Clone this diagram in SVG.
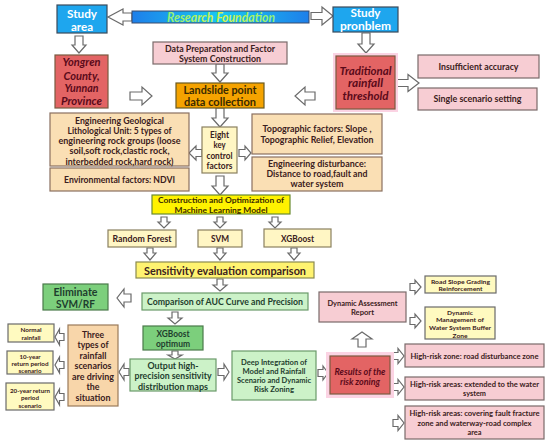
<svg xmlns="http://www.w3.org/2000/svg" width="550" height="444" viewBox="0 0 550 444">
<defs>
<linearGradient id="rfg" x1="0" y1="0" x2="1" y2="0">
<stop offset="0" stop-color="#1E7FEA"/><stop offset="0.5" stop-color="#17C9F2"/><stop offset="1" stop-color="#1E7FEA"/>
</linearGradient>
<linearGradient id="rft" x1="0" y1="0" x2="1" y2="0">
<stop offset="0" stop-color="#8CF07A"/><stop offset="0.5" stop-color="#D6F04A"/><stop offset="1" stop-color="#8CF07A"/>
</linearGradient>
<style>
text{font-family:Lato,"Open Sans","Noto Sans",sans-serif;font-weight:700;text-anchor:middle;fill:#3A2020}
.b{stroke-width:1.2}
.blue{fill:#1EA6EE;stroke:#3A4A5A}
.red{fill:#E36464;stroke:#7A5A40}
.pink{fill:#F7CDD3;stroke:#7A6A6A}
.org{fill:#F5A300;stroke:#6A5A20}
.wht{fill:#FADFB4;stroke:#8A7060}
.lyl{fill:#FFF6C4;stroke:#8A8060}
.yel{fill:#FFF200;stroke:#6A8A30}
.sen{fill:#FFF370;stroke:#8A8A50}
.lgr{fill:#CCF2C8;stroke:#6A9A6A}
.gr{fill:#7CCF7C;stroke:#4A7A4A}
.pch{fill:#F8D6AA;stroke:#9A7A5A}
.syl{fill:#FFFAC0;stroke:#6A6A6A}
.halo{fill:#FBD3E3}
.tw{fill:#FFFFFF}
.ti{font-style:italic;fill:#5A0A1A}
.tg{fill:#1E3D2E}
.to{fill:#3A2A00}
.arr path{fill:#FFFFFF;stroke:#6A6A6A;stroke-width:1.2;stroke-linejoin:miter}
</style>
</defs>
<rect width="550" height="444" fill="#FFFFFF"/>

<g id="connectors" class="arr">
<path d="M132,13 H123 V9 L108,17 L123,25 V21 H132 Z"/>
<path d="M311,12.5 H322 V7 L333,16 L322,25 V19.5 H311 Z"/>
<path d="M75,36 H83 V45 H86 L79,53 L72,45 H75 Z"/>
<path d="M362,33 H370 V44 H374 L366,53 L358,44 H362 Z"/>
<path d="M130,92 H142 V87 L152,96 L142,105 V100 H130 Z"/>
<path d="M315,92 H305 V87 L295,96 L305,105 V100 H315 Z"/>
<path d="M216,64 H224 V73 H228 L220,82 L212,73 H216 Z"/>
<path d="M397,79.5 H408 V74.5 L419,83 L408,91.5 V86.5 H397 Z"/>
<path d="M216,108 H224 V118 H228 L220,127 L212,118 H216 Z"/>
<path d="M202,149.5 H196 V146 L189,153 L196,160 V156.5 H202 Z"/>
<path d="M239,149.5 H245 V146 L251,153 L245,160 V156.5 H239 Z"/>
<path d="M216,176 H224 V186 H228 L220,195 L212,186 H216 Z"/>
<path d="M161,217 H167 V222 H170 L164,228 L158,222 H161 Z"/>
<path d="M217,217 H223 V222 H226 L220,228 L214,222 H217 Z"/>
<path d="M272,217 H278 V222 H281 L275,228 L269,222 H272 Z"/>
<path d="M147,248 H153 V253 H156 L150,260 L144,253 H147 Z"/>
<path d="M217,248 H223 V253 H226 L220,260 L214,253 H217 Z"/>
<path d="M291,248 H297 V253 H300 L294,260 L288,253 H291 Z"/>
<path d="M217,279 H223 V285 H227 L220,291 L213,285 H217 Z"/>
<path d="M131,294 H124 V289 L117,298 L124,307 V302 H131 Z"/>
<path d="M172,312 H178 V318 H182 L175,324 L168,318 H172 Z"/>
<path d="M172,351 H178 V355 H182 L175,359 L168,355 H172 Z"/>
<path d="M129,368.5 H124 V364 L119,372 L124,380 V375.5 H129 Z"/>
<path d="M64,333.5 H59.5 V329 L55,337 L59.5,345 V340.5 H64 Z"/>
<path d="M64,361.5 H59.5 V357 L55,365 L59.5,373 V368.5 H64 Z"/>
<path d="M64,393.5 H59.5 V389 L55,397 L59.5,405 V400.5 H64 Z"/>
<path d="M218,368.5 H224 V364 L229,372 L224,380 V375.5 H218 Z"/>
<path d="M318,369.5 H323 V366 L328,373 L323,380 V376.5 H318 Z"/>
<path d="M358,347 V339 H352 L362,332 L372,339 H366 V347 Z"/>
<path d="M410,283.5 H415 V280 L421,287 L415,294 V290.5 H410 Z"/>
<path d="M410,317.5 H415 V314 L421,321 L415,328 V324.5 H410 Z"/>
<path d="M393,352.5 H398 V348.5 L404,356 L398,363.5 V359.5 H393 Z"/>
<path d="M393,383.5 H398 V379.5 L404,387 L398,394.5 V390.5 H393 Z"/>
<path d="M393,419.5 H398 V415.5 L404,423 L398,430.5 V426.5 H393 Z"/>
</g>

<g id="study-area"><rect class="blue b" x="57" y="5" width="50" height="28"/>
<text class="tw" x="82" y="17.5" font-size="11.5" textLength="30" lengthAdjust="spacingAndGlyphs">Study</text>
<text class="tw" x="82" y="30.5" font-size="11.5" textLength="22" lengthAdjust="spacingAndGlyphs">area</text></g>

<g id="research-foundation"><rect x="132" y="11" width="177" height="12" fill="url(#rfg)" stroke="#3A4A6A" stroke-width="1"/>
<text x="221" y="21.5" font-size="12.5" font-style="italic" style="fill:url(#rft)" textLength="108" lengthAdjust="spacingAndGlyphs">Research Foundation</text></g>

<g id="study-problem"><rect class="blue b" x="333" y="7" width="65" height="25"/>
<text class="tw" x="365.5" y="17" font-size="11.5" textLength="30" lengthAdjust="spacingAndGlyphs">Study</text>
<text class="tw" x="365.5" y="30" font-size="11.5" textLength="51" lengthAdjust="spacingAndGlyphs">pronblem</text></g>

<g id="yongren"><rect class="red b" x="55" y="55" width="53" height="53"/>
<text class="ti" x="81.5" y="66" font-size="11" textLength="38" lengthAdjust="spacingAndGlyphs">Yongren</text>
<text class="ti" x="81.5" y="79.5" font-size="11" textLength="36" lengthAdjust="spacingAndGlyphs">County,</text>
<text class="ti" x="81.5" y="92" font-size="11" textLength="34" lengthAdjust="spacingAndGlyphs">Yunnan</text>
<text class="ti" x="81.5" y="105" font-size="11" textLength="41" lengthAdjust="spacingAndGlyphs">Province</text></g>

<g id="data-preparation"><rect class="pink b" x="153" y="42" width="134" height="22"/>
<text x="220" y="51.5" font-size="8.5" textLength="110" lengthAdjust="spacingAndGlyphs">Data Preparation and Factor</text>
<text x="220" y="61.5" font-size="8.5" textLength="82" lengthAdjust="spacingAndGlyphs">System Construction</text></g>

<g id="landslide"><rect class="org b" x="176" y="83" width="88" height="25"/>
<text class="to" x="220" y="94" font-size="10.5" textLength="73" lengthAdjust="spacingAndGlyphs">Landslide point</text>
<text class="to" x="220" y="105.5" font-size="10.5" textLength="72" lengthAdjust="spacingAndGlyphs">data collection</text></g>

<g id="traditional"><rect class="halo" x="333" y="53" width="65" height="59"/><rect class="red b" x="336" y="56" width="59" height="53"/>
<text class="ti" x="365.5" y="75" font-size="11" textLength="52" lengthAdjust="spacingAndGlyphs">Traditional</text>
<text class="ti" x="365.5" y="87" font-size="11" textLength="35" lengthAdjust="spacingAndGlyphs">rainfall</text>
<text class="ti" x="365.5" y="100" font-size="11" textLength="46" lengthAdjust="spacingAndGlyphs">threshold</text></g>

<g id="insufficient"><rect class="pink b" x="418" y="55" width="121" height="23"/>
<text x="478.5" y="70" font-size="8.5" textLength="80" lengthAdjust="spacingAndGlyphs">Insufficient accuracy</text></g>

<g id="single-scenario"><rect class="pink b" x="418" y="88" width="119" height="22"/>
<text x="477.5" y="102" font-size="8.5" textLength="88" lengthAdjust="spacingAndGlyphs">Single scenario setting</text></g>

<g id="eng-geo"><rect class="wht b" x="50" y="113" width="139" height="53"/>
<text x="119.5" y="123.5" font-size="8.5" textLength="89" lengthAdjust="spacingAndGlyphs">Engineering Geological</text>
<text x="119.5" y="133.5" font-size="8.5" textLength="104" lengthAdjust="spacingAndGlyphs">Lithological Unit: 5 types of</text>
<text x="119.5" y="144" font-size="8.5" textLength="122" lengthAdjust="spacingAndGlyphs">engineering rock groups (loose</text>
<text x="119.5" y="154" font-size="8.5" textLength="100" lengthAdjust="spacingAndGlyphs">soil,soft rock,clastic rock,</text>
<text x="119.5" y="164.5" font-size="8.5" textLength="108" lengthAdjust="spacingAndGlyphs">interbedded rock,hard rock)</text></g>

<g id="ndvi"><rect class="wht b" x="50" y="168" width="139" height="23"/>
<text x="119.5" y="183" font-size="9" textLength="111" lengthAdjust="spacingAndGlyphs">Environmental factors: NDVI</text></g>

<g id="eight-key"><rect class="lyl b" x="202" y="127" width="35" height="46"/>
<text x="219.5" y="138" font-size="8.5" textLength="19" lengthAdjust="spacingAndGlyphs">Eight</text>
<text x="219.5" y="148" font-size="8.5" textLength="12" lengthAdjust="spacingAndGlyphs">key</text>
<text x="219.5" y="159" font-size="8.5" textLength="26" lengthAdjust="spacingAndGlyphs">control</text>
<text x="219.5" y="169" font-size="8.5" textLength="26" lengthAdjust="spacingAndGlyphs">factors</text></g>

<g id="topographic"><rect class="wht b" x="252" y="114" width="130" height="40"/>
<text x="317" y="132" font-size="9" textLength="109" lengthAdjust="spacingAndGlyphs">Topographic factors: Slope ,</text>
<text x="317" y="142.5" font-size="9" textLength="113" lengthAdjust="spacingAndGlyphs">Topographic Relief, Elevation</text></g>

<g id="eng-disturbance"><rect class="wht b" x="252" y="157" width="130" height="34"/>
<text x="317" y="166.5" font-size="8.5" textLength="98" lengthAdjust="spacingAndGlyphs">Engineering disturbance:</text>
<text x="317" y="176.5" font-size="8.5" textLength="101" lengthAdjust="spacingAndGlyphs">Distance to road,fault and</text>
<text x="317" y="187" font-size="8.5" textLength="53" lengthAdjust="spacingAndGlyphs">water system</text></g>

<g id="construction"><rect class="yel b" x="152" y="195" width="138" height="19"/>
<text class="to" x="221" y="203" font-size="8" textLength="126" lengthAdjust="spacingAndGlyphs">Construction and Optimization of</text>
<text class="to" x="221" y="212.5" font-size="8" textLength="93" lengthAdjust="spacingAndGlyphs">Machine Learning Model</text></g>

<g id="random-forest"><rect class="lyl b" x="108" y="230" width="68" height="17"/>
<text x="142" y="241.5" font-size="9.5" textLength="59" lengthAdjust="spacingAndGlyphs">Random Forest</text></g>

<g id="svm"><rect class="lyl b" x="198" y="230" width="44" height="17"/>
<text x="220" y="241.5" font-size="9.5" textLength="18" lengthAdjust="spacingAndGlyphs">SVM</text></g>

<g id="xgboost"><rect class="lyl b" x="264" y="229" width="67" height="18"/>
<text x="297.5" y="241.5" font-size="9.5" textLength="33" lengthAdjust="spacingAndGlyphs">XGBoost</text></g>

<g id="sensitivity"><rect class="sen b" x="136" y="262" width="178" height="16"/>
<text x="225" y="274.5" font-size="12" textLength="162" lengthAdjust="spacingAndGlyphs">Sensitivity evaluation comparison</text></g>

<g id="auc"><rect class="lgr b" x="142" y="293" width="166" height="17"/>
<text class="tg" x="225" y="305" font-size="9.5" textLength="156" lengthAdjust="spacingAndGlyphs">Comparison of AUC Curve and Precision</text></g>

<g id="eliminate"><rect class="gr b" x="43" y="284" width="65" height="26"/>
<text class="tg" x="75.5" y="296" font-size="11.5" textLength="44" lengthAdjust="spacingAndGlyphs">Eliminate</text>
<text class="tg" x="75.5" y="307.5" font-size="11.5" textLength="39" lengthAdjust="spacingAndGlyphs">SVM/RF</text></g>

<g id="xgboost-optimum"><rect class="gr b" x="143" y="326" width="60" height="24"/>
<text class="tg" x="173" y="336.5" font-size="9.5" textLength="33" lengthAdjust="spacingAndGlyphs">XGBoost</text>
<text class="tg" x="173" y="346.5" font-size="9.5" textLength="34" lengthAdjust="spacingAndGlyphs">optimum</text></g>

<g id="output"><rect class="lgr b" x="130" y="359" width="86" height="32"/>
<text class="tg" x="173" y="368.5" font-size="9.5" textLength="51" lengthAdjust="spacingAndGlyphs">Output high-</text>
<text class="tg" x="173" y="379" font-size="9.5" textLength="77" lengthAdjust="spacingAndGlyphs">precision sensitivity</text>
<text class="tg" x="173" y="389.5" font-size="9.5" textLength="70" lengthAdjust="spacingAndGlyphs">distribution maps</text></g>

<g id="three-types"><rect class="pch b" x="68" y="325" width="50" height="81"/>
<text x="93" y="337.5" font-size="9.5" textLength="22" lengthAdjust="spacingAndGlyphs">Three</text>
<text x="93" y="348" font-size="9.5" textLength="31" lengthAdjust="spacingAndGlyphs">types of</text>
<text x="93" y="358.5" font-size="9.5" textLength="27" lengthAdjust="spacingAndGlyphs">rainfall</text>
<text x="93" y="369" font-size="9.5" textLength="37" lengthAdjust="spacingAndGlyphs">scenarios</text>
<text x="93" y="379.5" font-size="9.5" textLength="42" lengthAdjust="spacingAndGlyphs">are driving</text>
<text x="93" y="390" font-size="9.5" textLength="13" lengthAdjust="spacingAndGlyphs">the</text>
<text x="93" y="400.5" font-size="9.5" textLength="35" lengthAdjust="spacingAndGlyphs">situation</text></g>

<g id="normal-rainfall"><rect class="syl b" x="8" y="324" width="46" height="18"/>
<text x="31" y="332" font-size="6" textLength="21" lengthAdjust="spacingAndGlyphs">Normal</text>
<text x="31" y="339.5" font-size="6" textLength="19" lengthAdjust="spacingAndGlyphs">rainfall</text></g>

<g id="ten-year"><rect class="syl b" x="7" y="351" width="46" height="23"/>
<text x="30" y="358.5" font-size="6" textLength="21" lengthAdjust="spacingAndGlyphs">10-year</text>
<text x="30" y="365.5" font-size="6" textLength="37" lengthAdjust="spacingAndGlyphs">return period</text>
<text x="30" y="372.5" font-size="6" textLength="23" lengthAdjust="spacingAndGlyphs">scenario</text></g>

<g id="twenty-year"><rect class="syl b" x="6" y="383" width="48" height="27"/>
<text x="30" y="392.5" font-size="6" textLength="40" lengthAdjust="spacingAndGlyphs">20-year return</text>
<text x="30" y="400" font-size="6" textLength="18" lengthAdjust="spacingAndGlyphs">period</text>
<text x="30" y="407.5" font-size="6" textLength="23" lengthAdjust="spacingAndGlyphs">scenario</text></g>

<g id="deep-integration"><rect class="lgr b" x="232" y="351" width="84" height="49"/>
<text class="tg" x="274" y="365" font-size="8" textLength="66" lengthAdjust="spacingAndGlyphs">Deep Integration of</text>
<text class="tg" x="274" y="374" font-size="8" textLength="63" lengthAdjust="spacingAndGlyphs">Model and Rainfall</text>
<text class="tg" x="274" y="383" font-size="8" textLength="74" lengthAdjust="spacingAndGlyphs">Scenario and Dynamic</text>
<text class="tg" x="274" y="392" font-size="8" textLength="40" lengthAdjust="spacingAndGlyphs">Risk Zoning</text></g>

<g id="results"><rect class="halo" x="326" y="352" width="68" height="46"/><rect class="red b" x="330" y="356" width="60" height="38"/>
<text class="ti" x="360" y="374.5" font-size="9" textLength="51" lengthAdjust="spacingAndGlyphs">Results of the</text>
<text class="ti" x="360" y="384.5" font-size="9" textLength="40" lengthAdjust="spacingAndGlyphs">risk zoning</text></g>

<g id="dynamic-assessment"><rect class="pink b" x="319" y="292" width="87" height="30"/>
<text x="362.5" y="306" font-size="8" textLength="70" lengthAdjust="spacingAndGlyphs">Dynamic Assessment</text>
<text x="362.5" y="315" font-size="8" textLength="23" lengthAdjust="spacingAndGlyphs">Report</text></g>

<g id="road-slope"><rect class="syl b" x="425" y="276" width="71" height="17"/>
<text x="460.5" y="283.5" font-size="6" textLength="59" lengthAdjust="spacingAndGlyphs">Road Slope Grading</text>
<text x="460.5" y="291" font-size="6" textLength="44" lengthAdjust="spacingAndGlyphs">Reinforcement</text></g>

<g id="dynamic-management"><rect class="syl b" x="425" y="307" width="70" height="32"/>
<text x="460" y="314.5" font-size="6" textLength="26" lengthAdjust="spacingAndGlyphs">Dynamic</text>
<text x="460" y="322" font-size="6" textLength="48" lengthAdjust="spacingAndGlyphs">Management of</text>
<text x="460" y="330" font-size="6" textLength="62" lengthAdjust="spacingAndGlyphs">Water System Buffer</text>
<text x="460" y="337.5" font-size="6" textLength="15" lengthAdjust="spacingAndGlyphs">Zone</text></g>

<g id="high-risk-road"><rect class="pink b" x="405" y="344" width="139" height="23"/>
<text x="474.5" y="359" font-size="8" textLength="128" lengthAdjust="spacingAndGlyphs">High-risk zone: road disturbance zone</text></g>

<g id="high-risk-water"><rect class="pink b" x="405" y="377" width="139" height="23"/>
<text x="474.5" y="387" font-size="8" textLength="129" lengthAdjust="spacingAndGlyphs">High-risk areas: extended to the water</text>
<text x="474.5" y="396" font-size="8" textLength="23" lengthAdjust="spacingAndGlyphs">system</text></g>

<g id="high-risk-fault"><rect class="pink b" x="405" y="406" width="139" height="33"/>
<text x="474.5" y="416" font-size="8" textLength="130" lengthAdjust="spacingAndGlyphs">High-risk areas: covering fault fracture</text>
<text x="474.5" y="426" font-size="8" textLength="114" lengthAdjust="spacingAndGlyphs">zone and waterway-road complex</text>
<text x="474.5" y="435" font-size="8" textLength="14" lengthAdjust="spacingAndGlyphs">area</text></g>
</svg>
